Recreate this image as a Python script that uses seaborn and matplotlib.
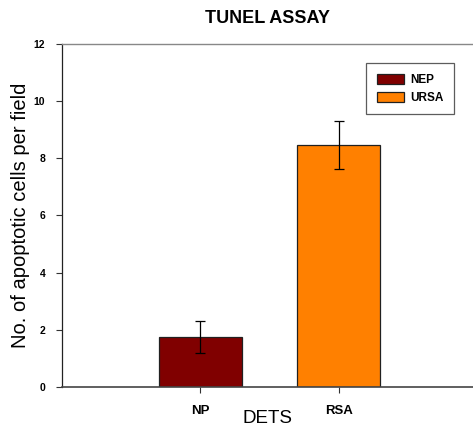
import matplotlib
matplotlib.use("Agg")
import matplotlib.pyplot as plt
import seaborn as sns
import pandas as pd

categories = ["NP", "RSA"]
groups = ["NEP", "URSA"]
values = [1.75, 8.47]
err_low = [0.55, 0.84]
err_high = [0.56, 0.84]
colors = ["#800000", "#FF8000"]
yticks = [0, 2, 4, 6, 8, 10, 12]

sns.set_theme(style="white")
plt.rcParams["font.family"] = ["Liberation Sans", "DejaVu Sans"]
plt.rcParams["text.color"] = "black"
plt.rcParams["axes.labelcolor"] = "black"
plt.rcParams["xtick.color"] = "black"
plt.rcParams["ytick.color"] = "black"

df = pd.DataFrame({"cat": categories, "grp": groups, "val": values})

fig = plt.figure(figsize=(4.73, 4.28), dpi=100)
ax = fig.add_axes([0.131, 0.0958, 0.869, 0.8014])

sns.barplot(data=df, x="cat", y="val", hue="grp", order=categories,
            hue_order=groups, palette=colors, dodge=False, width=0.6,
            errorbar=None, edgecolor="#202020", linewidth=0.9, ax=ax,
            saturation=1)

ax.errorbar(range(len(categories)), values, yerr=[err_low, err_high],
            fmt="none", ecolor="black", elinewidth=0.9, capsize=3.4, capthick=0.9)

ax.set_xlim(-1.0, 1.97)
ax.set_ylim(0, 12)
ax.set_yticks(yticks)
ax.set_yticklabels([str(t) for t in yticks], fontsize=7.5, fontweight="bold")
ax.set_xticks(range(len(categories)))
ax.set_xticklabels(categories, fontsize=9.5, fontweight="bold")
ax.tick_params(axis="both", direction="out", length=4, width=0.8, color="#333333",
               left=True, bottom=True)
ax.tick_params(axis="y", pad=8)
ax.tick_params(axis="x", pad=9)

ax.spines["left"].set_color("#222222")
ax.spines["left"].set_linewidth(0.9)
ax.spines["bottom"].set_color("#444444")
ax.spines["bottom"].set_linewidth(1.2)
ax.spines["top"].set_color("#888888")
ax.spines["top"].set_linewidth(1.0)
ax.spines["right"].set_visible(False)

ax.set_xlabel("DETS", fontsize=13.5, labelpad=-5)
ax.set_ylabel("No. of apoptotic cells per field", fontsize=14.5, labelpad=3)
ax.set_title("TUNEL ASSAY", fontsize=13, fontweight="bold", pad=15, x=0.5)

leg = ax.legend(loc="upper right", bbox_to_anchor=(0.968, 0.962), frameon=True,
                fancybox=False, edgecolor="#333333", prop={"weight": "bold", "size": 8.5},
                handlelength=2.3, handleheight=0.93, borderpad=0.9, labelspacing=0.5,
                handletextpad=0.5)
leg.get_frame().set_linewidth(0.9)
leg.set_title(None)

fig.savefig("out.png", dpi=100)
